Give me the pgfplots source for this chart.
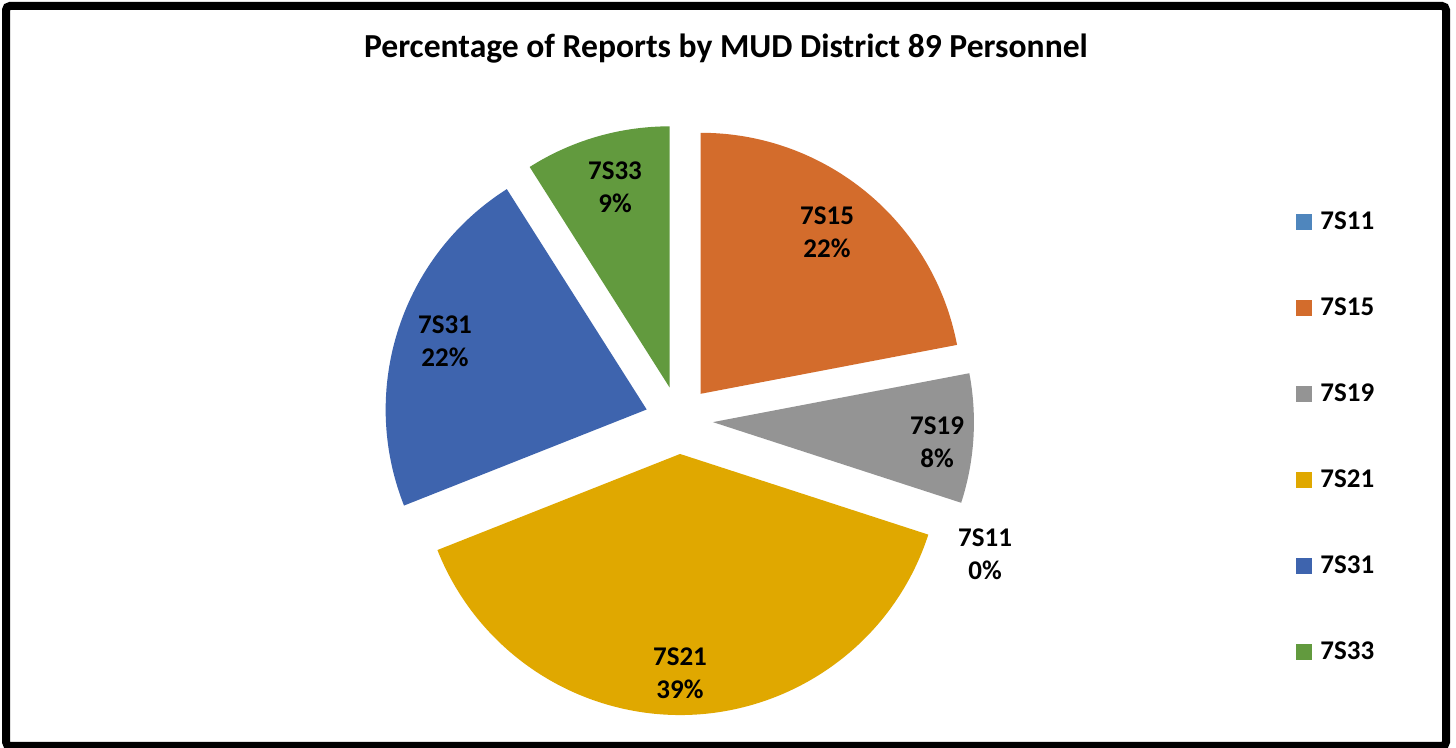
\documentclass[border=0pt]{standalone}
\usepackage{pgfplots}
\pgfplotsset{compat=1.18}
\usepackage{fontspec}
\setmainfont{Carlito}
\definecolor{cA}{RGB}{79,134,189}
\definecolor{cB}{RGB}{211,108,44}
\definecolor{cC}{RGB}{148,148,148}
\definecolor{cD}{RGB}{224,168,0}
\definecolor{cE}{RGB}{62,100,174}
\definecolor{cF}{RGB}{98,154,62}
% percentages: 7S11 0, 7S15 22, 7S19 8, 7S21 39, 7S31 22, 7S33 9
\def\cx{339.5}\def\cy{164}\def\R{130.5}\def\D{17}
% #1 start angle, #2 percent, #3 colour (clockwise from start)
\newcommand{\pieslice}[3]{%
  \fill[#3] (axis cs:{\cx+\D*cos(#1-1.8*#2)},{\cy+\D*sin(#1-1.8*#2)})
    -- (axis cs:{\cx+\D*cos(#1-1.8*#2)+\R*cos(#1)},{\cy+\D*sin(#1-1.8*#2)+\R*sin(#1)})
    arc[start angle={#1}, end angle={#1-3.6*#2}, radius=\R pt] -- cycle;}
\begin{document}
\begin{tikzpicture}
\begin{axis}[
  scale only axis, width=728pt, height=374pt,
  xmin=0, xmax=728, ymin=0, ymax=374,
  hide axis, clip=false,
  legend style={at={(axis cs:648,284.5)}, anchor=north west, draw=none, fill=none,
    inner sep=0pt, column sep=4pt, cells={anchor=west},
    nodes={minimum height=43pt, inner sep=0pt, font=\fontsize{13.5}{15}\selectfont\bfseries}},
  legend image code/.code={\path[#1, draw=none] (0pt,-4pt) rectangle (8pt,4pt);},
]
\fill[white] (axis cs:0,0) rectangle (axis cs:728,374);
\addlegendimage{fill=cA}\addlegendentry{7S11}
\addlegendimage{fill=cB}\addlegendentry{7S15}
\addlegendimage{fill=cC}\addlegendentry{7S19}
\addlegendimage{fill=cD}\addlegendentry{7S21}
\addlegendimage{fill=cE}\addlegendentry{7S31}
\addlegendimage{fill=cF}\addlegendentry{7S33}
\pieslice{90}{22}{cB}
\pieslice{10.8}{8}{cC}
\pieslice{-18}{39}{cD}
\pieslice{-158.4}{22}{cE}
\pieslice{-237.6}{9}{cF}
\begin{scope}[every node/.style={align=center, font=\fontsize{13.5}{16.5}\selectfont\bfseries}]
\node at (axis cs:413.5,258) {7S15\\22\%};
\node at (axis cs:468.5,153) {7S19\\8\%};
\node at (axis cs:492.5,97) {7S11\\0\%};
\node at (axis cs:340,37.5) {7S21\\39\%};
\node at (axis cs:222.5,203.5) {7S31\\22\%};
\node at (axis cs:307.5,280.5) {7S33\\9\%};
\end{scope}
\node[font=\fontsize{16.8}{19}\selectfont\bfseries] at (axis cs:363,349.5) {Percentage of Reports by MUD District 89 Personnel};
\draw[line width=4pt, rounded corners=2pt] (axis cs:3,1) rectangle (axis cs:723,371);
\end{axis}
\pgfresetboundingbox
\path[use as bounding box] (0,0) rectangle (728pt,374pt);
\end{tikzpicture}
\end{document}
